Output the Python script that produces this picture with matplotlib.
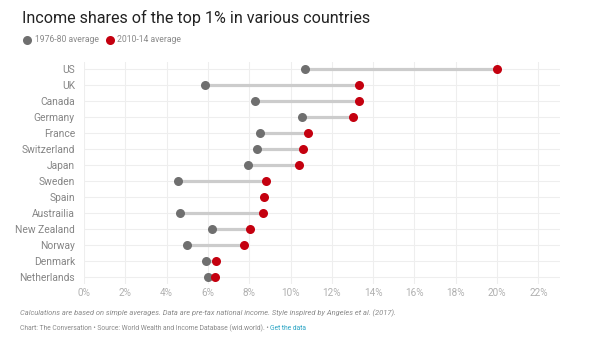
import numpy as np
import matplotlib.pyplot as plt
from matplotlib.lines import Line2D

countries = ["US", "UK", "Canada", "Germany", "France", "Switzerland", "Japan",
             "Sweden", "Spain", "Austrailia", "New Zealand", "Norway", "Denmark", "Netherlands"]
avg_1976_80 = [10.7, 5.85, 8.3, 10.55, 8.5, 8.4, 7.95, 4.55, np.nan, 4.65, 6.2, 5.0, 5.9, 6.0]
avg_2010_14 = [20.0, 13.3, 13.3, 13.05, 10.85, 10.6, 10.4, 8.8, 8.7, 8.65, 8.05, 7.75, 6.4, 6.35]
xticks = [0, 2, 4, 6, 8, 10, 12, 14, 16, 18, 20, 22]

plt.rcParams['font.family'] = ['Roboto', 'DejaVu Sans']

gray = "#6f6f6f"
red = "#c4000f"

fig = plt.figure(figsize=(6.05, 3.41), dpi=100)
ax = fig.add_axes([84/605, 1-284/341, (560-84)/605, (284-62)/341])

y = np.arange(len(countries))
for i in range(len(countries)):
    if not np.isnan(avg_1976_80[i]):
        ax.plot([avg_1976_80[i], avg_2010_14[i]], [y[i], y[i]], color="#cccccc", lw=2.3,
                solid_capstyle="butt", zorder=2)
ax.plot(avg_1976_80, y, "o", color=gray, ms=6.5, mec="none", zorder=3)
ax.plot(avg_2010_14, y, "o", color=red, ms=6.5, mec="none", zorder=4)

ax.set_xlim(0, 23.05)
ax.set_ylim(len(countries) - 0.55, -0.45)
ax.set_yticks(y)
ax.set_yticklabels(countries)
ax.set_xticks(xticks)
ax.set_xticklabels([f"{t}%" for t in xticks])
ax.tick_params(axis="y", length=0, pad=6.5, labelsize=7.4, labelcolor="#858585")
ax.tick_params(axis="x", length=0, pad=3, labelsize=7.2, labelcolor="#b0b0b0")
ax.grid(True, color="#eeeeee", lw=0.8, zorder=0)
for s in ax.spines.values():
    s.set_visible(False)

fig.text(22/605, 1-18/341, "Income shares of the top 1% in various countries",
         fontsize=11.6, color="#222222", va="center", ha="left")
fig.add_artist(Line2D([27/605], [1-40/341], marker="o", ms=6.5, color=gray, mec="none",
                      transform=fig.transFigure))
fig.text(35/605, 1-40/341, "1976-80 average", fontsize=6.2, color="#8a8a8a", va="center")
fig.add_artist(Line2D([110/605], [1-40/341], marker="o", ms=6.5, color=red, mec="none",
                      transform=fig.transFigure))
fig.text(117/605, 1-40/341, "2010-14 average", fontsize=6.2, color="#8a8a8a", va="center")

fig.text(20/605, 1-313/341,
         "Calculations are based on simple averages. Data are pre-tax national income. Style inspired by Angeles et al. (2017).",
         fontsize=5.45, style="italic", color="#8a8a8a", va="center")
t = fig.text(20/605, 1-328/341,
             "Chart: The Conversation \u2022 Source: World Wealth and Income Database (wid.world). \u2022 ",
             fontsize=4.85, color="#8a8a8a", va="center")
fig.canvas.draw()
bb = t.get_window_extent()
fig.text(bb.x1/605, 1-328/341, "Get the data", fontsize=4.85, color="#2aa4c4", va="center")

fig.savefig("out.png", dpi=100)
